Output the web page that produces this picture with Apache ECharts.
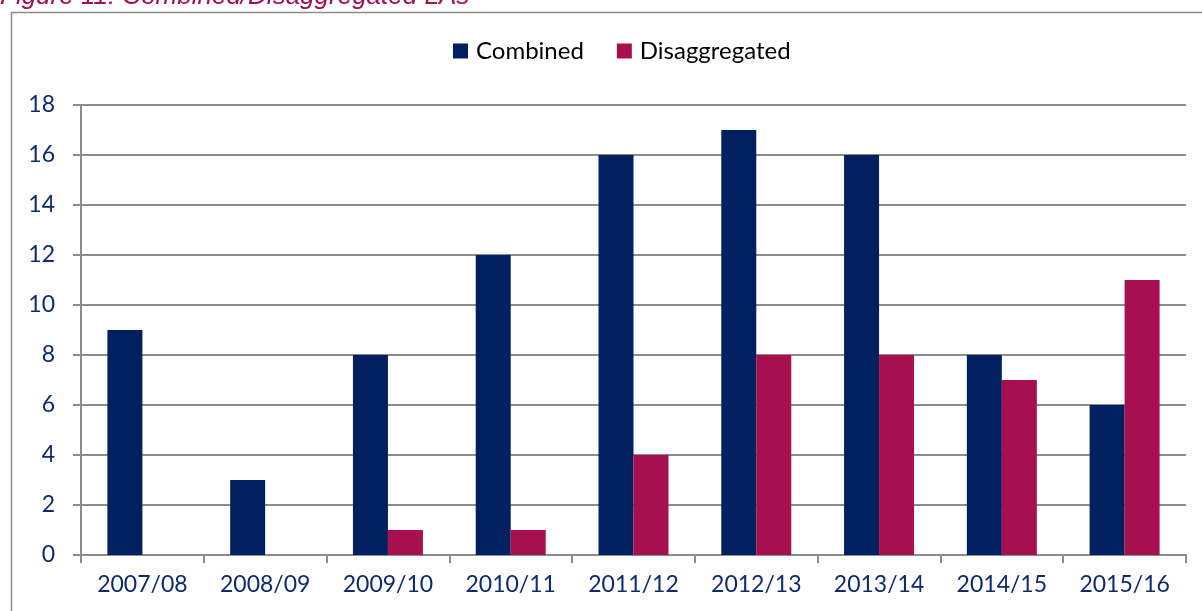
<!DOCTYPE html>
<html>
<head>
<meta charset="utf-8">
<script src="https://cdn.jsdelivr.net/npm/echarts@6/dist/echarts.min.js"></script>
<style>
  body { margin: 0; background: #fff; }
  #laChart { width: 1202px; height: 611px; }
</style>
</head>
<body>
<div id="laChart"></div>
<script>
/* 年份 */
var years = ['2007/08', '2008/09', '2009/10', '2010/11', '2011/12', '2012/13', '2013/14', '2014/15', '2015/16'];

/* Combined */
var combined = [9, 3, 8, 12, 16, 17, 16, 8, 6];

/* Disaggregated */
var disaggregated = [null, null, 1, 1, 4, 8, 8, 7, 11];

/* y轴刻度 */
var yMin = 0, yMax = 18, yStep = 2;

var labelColor = '#0e2a6b';
var gridColor = '#8c8c8c';

var laChart = echarts.init(document.getElementById('laChart'));
var option = {
    backgroundColor: '#fff',
    animation: false,
    textStyle: { fontFamily: 'Lato' },
    graphic: [
        {
            type: 'rect',
            shape: { x: 11.5, y: 12.5, width: 1300, height: 700 },
            style: { fill: 'none', stroke: gridColor, lineWidth: 1.5 },
            z: 0
        },
        {
            type: 'text',
            x: 0,
            y: 10,
            style: {
                text: 'Figure 11: Combined/Disaggregated LAs',
                fill: '#9e1050',
                font: 'italic 26px "Liberation Sans", Arial',
                verticalAlign: 'bottom'
            }
        }
    ],
    grid: {
        left: 81,
        right: 16,
        top: 105,
        bottom: 56
    },
    legend: {
        top: 34,
        left: 448,
        itemWidth: 15,
        itemHeight: 15,
        itemGap: 33,
        icon: 'rect',
        textStyle: { color: '#000', fontSize: 24, fontFamily: 'Lato', padding: [0, 0, 0, 3] },
        data: ['Combined', 'Disaggregated']
    },
    xAxis: {
        type: 'category',
        data: years,
        axisLine: { lineStyle: { color: gridColor, width: 2 } },
        axisTick: { show: true, length: 8, lineStyle: { color: gridColor, width: 2 } },
        axisLabel: { color: labelColor, fontSize: 23, margin: 18 }
    },
    yAxis: {
        type: 'value',
        min: yMin,
        max: yMax,
        interval: yStep,
        axisLine: { show: true, lineStyle: { color: gridColor, width: 2 } },
        axisTick: { show: true, length: 8, lineStyle: { color: gridColor, width: 2 } },
        axisLabel: { color: labelColor, fontSize: 23, margin: 26 },
        splitLine: { lineStyle: { color: gridColor, width: 2 } }
    },
    series: [
        {
            name: 'Combined',
            type: 'bar',
            data: combined,
            barWidth: 35,
            barGap: '0%',
            itemStyle: { color: '#002060' }
        },
        {
            name: 'Disaggregated',
            type: 'bar',
            data: disaggregated,
            barWidth: 35,
            barGap: '0%',
            itemStyle: { color: '#a6104f' }
        }
    ]
};
laChart.setOption(option, true);
</script>
</body>
</html>
